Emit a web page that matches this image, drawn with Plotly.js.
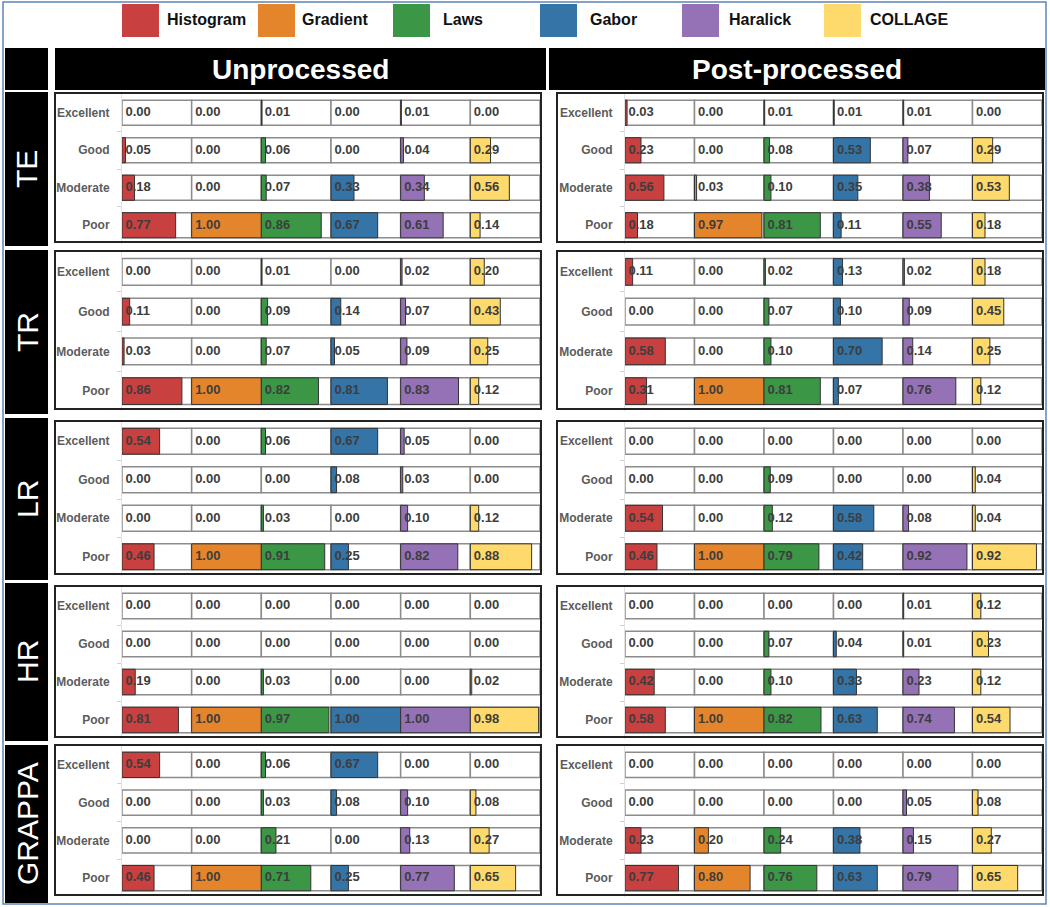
<!DOCTYPE html>
<html>
<head>
<meta charset="utf-8">
<script src="https://cdn.plot.ly/plotly-3.0.1.min.js"></script>
<style>
    html, body { margin: 0; padding: 0; background: #fff; }
    #chart { width: 1050px; height: 907px; }
</style>
</head>
<body>
<div id="chart"></div>
<script>
    const features = ["Histogram", "Gradient", "Laws", "Gabor", "Haralick", "COLLAGE"];
    const featureColors = ["#c8403f", "#e5852b", "#3b9745", "#3474a6", "#9472b5", "#fed96b"];
    const grades = ["Excellent", "Good", "Moderate", "Poor"];
    const methods = ["TE", "TR", "LR", "HR", "GRAPPA"];
    const stages = ["Unprocessed", "Post-processed"];

    // rows = grades, columns = features
    const teUnprocessed = [
        [0.00, 0.00, 0.01, 0.00, 0.01, 0.00],
        [0.05, 0.00, 0.06, 0.00, 0.04, 0.29],
        [0.18, 0.00, 0.07, 0.33, 0.34, 0.56],
        [0.77, 1.00, 0.86, 0.67, 0.61, 0.14]
    ];
    const tePostprocessed = [
        [0.03, 0.00, 0.01, 0.01, 0.01, 0.00],
        [0.23, 0.00, 0.08, 0.53, 0.07, 0.29],
        [0.56, 0.03, 0.10, 0.35, 0.38, 0.53],
        [0.18, 0.97, 0.81, 0.11, 0.55, 0.18]
    ];
    const trUnprocessed = [
        [0.00, 0.00, 0.01, 0.00, 0.02, 0.20],
        [0.11, 0.00, 0.09, 0.14, 0.07, 0.43],
        [0.03, 0.00, 0.07, 0.05, 0.09, 0.25],
        [0.86, 1.00, 0.82, 0.81, 0.83, 0.12]
    ];
    const trPostprocessed = [
        [0.11, 0.00, 0.02, 0.13, 0.02, 0.18],
        [0.00, 0.00, 0.07, 0.10, 0.09, 0.45],
        [0.58, 0.00, 0.10, 0.70, 0.14, 0.25],
        [0.31, 1.00, 0.81, 0.07, 0.76, 0.12]
    ];
    const lrUnprocessed = [
        [0.54, 0.00, 0.06, 0.67, 0.05, 0.00],
        [0.00, 0.00, 0.00, 0.08, 0.03, 0.00],
        [0.00, 0.00, 0.03, 0.00, 0.10, 0.12],
        [0.46, 1.00, 0.91, 0.25, 0.82, 0.88]
    ];
    const lrPostprocessed = [
        [0.00, 0.00, 0.00, 0.00, 0.00, 0.00],
        [0.00, 0.00, 0.09, 0.00, 0.00, 0.04],
        [0.54, 0.00, 0.12, 0.58, 0.08, 0.04],
        [0.46, 1.00, 0.79, 0.42, 0.92, 0.92]
    ];
    const hrUnprocessed = [
        [0.00, 0.00, 0.00, 0.00, 0.00, 0.00],
        [0.00, 0.00, 0.00, 0.00, 0.00, 0.00],
        [0.19, 0.00, 0.03, 0.00, 0.00, 0.02],
        [0.81, 1.00, 0.97, 1.00, 1.00, 0.98]
    ];
    const hrPostprocessed = [
        [0.00, 0.00, 0.00, 0.00, 0.01, 0.12],
        [0.00, 0.00, 0.07, 0.04, 0.01, 0.23],
        [0.42, 0.00, 0.10, 0.33, 0.23, 0.12],
        [0.58, 1.00, 0.82, 0.63, 0.74, 0.54]
    ];
    const grappaUnprocessed = [
        [0.54, 0.00, 0.06, 0.67, 0.00, 0.00],
        [0.00, 0.00, 0.03, 0.08, 0.10, 0.08],
        [0.00, 0.00, 0.21, 0.00, 0.13, 0.27],
        [0.46, 1.00, 0.71, 0.25, 0.77, 0.65]
    ];
    const grappaPostprocessed = [
        [0.00, 0.00, 0.00, 0.00, 0.00, 0.00],
        [0.00, 0.00, 0.00, 0.00, 0.05, 0.08],
        [0.23, 0.20, 0.24, 0.38, 0.15, 0.27],
        [0.77, 0.80, 0.76, 0.63, 0.79, 0.65]
    ];

    const panelData = {
        TE: [teUnprocessed, tePostprocessed],
        TR: [trUnprocessed, trPostprocessed],
        LR: [lrUnprocessed, lrPostprocessed],
        HR: [hrUnprocessed, hrPostprocessed],
        GRAPPA: [grappaUnprocessed, grappaPostprocessed]
    };

    // page geometry in pixels
    const W = 1050, H = 907;
    const px = (x) => x / W;
    const py = (y) => 1 - y / H;
    const barCols = [[122, 540], [625, 1042]];
    const panelCols = [[55, 541], [557, 1043]];
    const rowBands = [[94, 244], [252, 411], [422, 576], [587, 739], [746, 897]];
    const labelBands = [[92, 246], [250, 414], [418, 580], [583, 741], [745, 903]];
    const headerCols = [[55, 546], [549, 1045]];
    const legendSwatchX = [122, 258, 393, 540, 682, 824];
    const legendTextX = [165, 300, 441, 588, 727, 868];

    const gradeY = grades.map((g, i) => grades.length - 1 - i);
    const BAR_W = 0.67;
    const FONT = "Arial, 'Liberation Sans', sans-serif";

    const traces = [];
    const layout = {
        width: W,
        height: H,
        margin: { l: 0, r: 0, t: 0, b: 0 },
        paper_bgcolor: "#fff",
        plot_bgcolor: "#fff",
        barmode: "overlay",
        showlegend: false,
        shapes: [],
        annotations: []
    };

    const note = (x, y, text, font, extra) => Object.assign({
        xref: "paper", yref: "paper", x: px(x), y: py(y), text: text,
        showarrow: false, xanchor: "center", yanchor: "middle", font: font
    }, extra || {});

    let n = 0;
    methods.forEach((method, r) => {
        stages.forEach((stage, c) => {
            n += 1;
            const sfx = n === 1 ? "" : String(n);
            const xa = "x" + sfx, ya = "y" + sfx;
            const values = panelData[method][c];

            const cellX = [], cellBase = [], cellY = [];
            const txtX = [], txtY = [], txt = [];
            grades.forEach((g, gi) => {
                features.forEach((f, fi) => {
                    cellX.push(1);
                    cellBase.push(fi);
                    cellY.push(gradeY[gi]);
                    txtX.push(fi + 0.05);
                    txtY.push(gradeY[gi]);
                    txt.push(values[gi][fi].toFixed(2));
                });
            });

            traces.push({
                type: "bar", orientation: "h",
                x: cellX, base: cellBase, y: cellY, width: BAR_W,
                marker: { color: "#fff", line: { color: "#8c8c8c", width: 1.5 } },
                xaxis: xa, yaxis: ya, hoverinfo: "skip"
            });

            features.forEach((f, fi) => {
                const v = grades.map((g, gi) => values[gi][fi]);
                traces.push({
                    type: "bar", orientation: "h", name: f,
                    x: v, base: fi, y: gradeY, width: BAR_W,
                    marker: { color: featureColors[fi], line: { color: "#333", width: v.map((d) => (d > 0 ? 1 : 0)) } },
                    xaxis: xa, yaxis: ya, hoverinfo: "skip"
                });
            });

            traces.push({
                type: "scatter", mode: "text",
                x: txtX, y: txtY, text: txt,
                textposition: "middle right",
                textfont: { family: FONT, size: 13, color: "#3d3d3d", weight: "bold" },
                cliponaxis: false,
                xaxis: xa, yaxis: ya, hoverinfo: "skip"
            });

            layout["xaxis" + sfx] = {
                domain: [px(barCols[c][0]), px(barCols[c][1])],
                range: [0, 6], visible: false, fixedrange: true, anchor: ya
            };
            layout["yaxis" + sfx] = {
                domain: [py(rowBands[r][1]), py(rowBands[r][0])],
                range: [-0.5, 3.5],
                tickmode: "array", tickvals: gradeY, ticktext: grades,
                tickfont: { family: FONT, size: 12, color: "#5c5c5c", weight: "bold" },
                ticks: "", ticklabelstandoff: 9,
                minor: { tickmode: "array", tickvals: [0.5, 1.5, 2.5], ticks: "outside", ticklen: 4, tickcolor: "#d0d0d0" },
                showgrid: false, zeroline: false,
                showline: true, linecolor: "#e2e2e2", linewidth: 1,
                fixedrange: true, anchor: xa
            };

            layout.shapes.push({
                type: "rect", xref: "paper", yref: "paper",
                x0: px(panelCols[c][0]), x1: px(panelCols[c][1]),
                y0: py(rowBands[r][1] - 2), y1: py(rowBands[r][0] - 1),
                line: { color: "#222", width: 2 }, fillcolor: "rgba(0,0,0,0)"
            });
        });

        layout.shapes.push({
            type: "rect", xref: "paper", yref: "paper",
            x0: px(5), x1: px(48), y0: py(labelBands[r][1]), y1: py(labelBands[r][0]),
            line: { width: 0 }, fillcolor: "#000"
        });
        layout.annotations.push(note(27, (labelBands[r][0] + labelBands[r][1]) / 2, method,
            { family: FONT, size: 30, color: "#fff" }, { textangle: -90 }));
    });

    // column headers
    layout.shapes.push({
        type: "rect", xref: "paper", yref: "paper",
        x0: px(5), x1: px(48), y0: py(90), y1: py(48),
        line: { width: 0 }, fillcolor: "#000"
    });
    stages.forEach((stage, c) => {
        layout.shapes.push({
            type: "rect", xref: "paper", yref: "paper",
            x0: px(headerCols[c][0]), x1: px(headerCols[c][1]), y0: py(90), y1: py(48),
            line: { width: 0 }, fillcolor: "#000"
        });
        layout.annotations.push(note((headerCols[c][0] + headerCols[c][1]) / 2, 69, stage,
            { family: FONT, size: 28, color: "#fff", weight: "bold" }));
    });

    // legend
    features.forEach((f, fi) => {
        layout.shapes.push({
            type: "rect", xref: "paper", yref: "paper",
            x0: px(legendSwatchX[fi]), x1: px(legendSwatchX[fi] + 37), y0: py(37), y1: py(4),
            line: { width: 0 }, fillcolor: featureColors[fi]
        });
        layout.annotations.push(note(legendTextX[fi], 20, f,
            { family: FONT, size: 16, color: "#111", weight: "bold" }, { xanchor: "left" }));
    });

    // outer frame
    layout.shapes.push({
        type: "rect", xref: "paper", yref: "paper",
        x0: px(3), x1: px(1046), y0: py(904), y1: py(2),
        line: { color: "#5b87b6", width: 1.5 }, fillcolor: "rgba(0,0,0,0)"
    });

    Plotly.newPlot("chart", traces, layout, { displayModeBar: false, staticPlot: true });
</script>
</body>
</html>
